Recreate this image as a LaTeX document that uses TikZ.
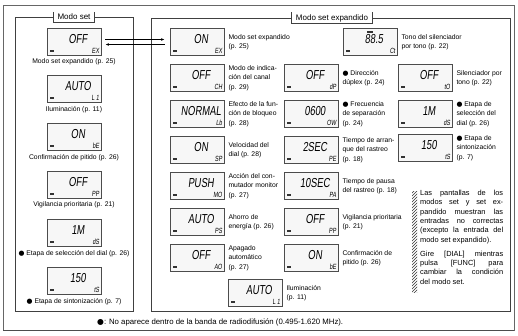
\documentclass[tikz,border=0pt]{standalone}
\usepackage{fontspec}
\setmainfont{Liberation Sans}
\newfontfamily\lcdfont[FakeSlant=0.12,FakeStretch=0.72]{Liberation Sans}
\newfontfamily\symfont{DejaVu Sans}
\usetikzlibrary{arrows.meta,patterns}

\tikzset{
  frame/.style={draw=black!75, line width=0.9pt},
  lcd/.style={draw=black!70, line width=0.7pt, fill=black!3, minimum width=54pt, minimum height=27pt, inner sep=0pt},
  lcdmain/.style={font=\lcdfont\fontsize{13}{13}\selectfont, inner sep=0pt},
  lcdcode/.style={font=\lcdfont\fontsize{7.5}{7.5}\selectfont, inner sep=0pt},
  lbl/.style={font=\fontsize{6.8}{9.5}\selectfont, align=left, inner sep=0pt},
  tab/.style={font=\fontsize{8}{8}\selectfont, fill=white, inner xsep=4pt, inner ysep=2pt},
}

\newcommand\bmark{{\symfont\char"25CF}}

% one LCD window: name, x, y, reading, code
\newcommand\lcdpanel[5]{%
  \node[lcd] (#1) at (#2,#3) {};
  \node[lcdmain] (#1-v) at ([shift={(4pt,3pt)}]#1.center) {#4};
  \node[lcdcode, anchor=base east] (#1-c) at ([shift={(-2pt,2pt)}]#1.south east) {#5};
  \fill[black!80] ([shift={(3pt,4pt)}]#1.south west) rectangle ++(4.5pt,1.6pt);
}

\begin{document}
\begin{tikzpicture}[x=1pt,y=-1pt]
\useasboundingbox (0,0) rectangle (518,335);
% page frame
\draw[black!60, line width=0.8pt] (3,5) rectangle (514,330);
\draw[black!70, line width=1.6pt] (3,330.5) -- (514,330.5);

% Modo set
\draw[frame] (15,17) rectangle (133,311);
\node[tab] (t-set) at (74,17) {Modo set};
\draw[frame] (t-set.north west) -- (t-set.south west) -- (t-set.south east) -- (t-set.north east);

\lcdpanel{s-ex}{74}{42}{OFF}{EX}
\node[lbl, anchor=north] (s-ex-l) at ([yshift=-3pt]s-ex.south) {Modo set expandido (p. 25)};
\lcdpanel{s-il}{74}{89}{AUTO}{L 1}
\node[lbl, anchor=north] (s-il-l) at ([yshift=-3pt]s-il.south) {Iluminación (p. 11)};
\lcdpanel{s-be}{74}{137}{ON}{bE}
\node[lbl, anchor=north] (s-be-l) at ([yshift=-3pt]s-be.south) {Confirmación de pitido (p. 26)};
\lcdpanel{s-pp}{74}{185}{OFF}{PP}
\node[lbl, anchor=north] (s-pp-l) at ([yshift=-3pt]s-pp.south) {Vigilancia prioritaria (p. 21)};
\lcdpanel{s-ds}{74}{233}{1M}{dS}
\node[lbl, anchor=north] (s-ds-l) at ([yshift=-3pt]s-ds.south) {\bmark\ Etapa de selección del dial (p. 26)};
\lcdpanel{s-ts}{74}{281}{150}{tS}
\node[lbl, anchor=north] (s-ts-l) at ([yshift=-3pt]s-ts.south) {\bmark\ Etapa de sintonización (p. 7)};

% Modo set expandido
\draw[frame] (151,18) rectangle (510,311);
\node[tab] (t-exp) at (332,18) {Modo set expandido};
\draw[frame] (t-exp.north west) -- (t-exp.south west) -- (t-exp.south east) -- (t-exp.north east);

\lcdpanel{e-ex}{197}{42}{ON}{EX}
\node[lbl, anchor=west] (e-ex-l) at ([xshift=4pt]e-ex.east) {Modo set expandido\\(p. 25)};
\lcdpanel{e-ch}{197}{78}{OFF}{CH}
\node[lbl, anchor=west] (e-ch-l) at ([xshift=4pt]e-ch.east) {Modo de indica-\\ción del canal\\(p. 29)};
\lcdpanel{e-lb}{197}{114}{NORMAL}{Lb}
\node[lbl, anchor=west] (e-lb-l) at ([xshift=4pt]e-lb.east) {Efecto de la fun-\\ción de bloqueo\\(p. 28)};
\lcdpanel{e-sp}{197}{150}{ON}{SP}
\node[lbl, anchor=west] (e-sp-l) at ([xshift=4pt]e-sp.east) {Velocidad del\\dial (p. 28)};
\lcdpanel{e-mo}{197}{186}{PUSH}{MO}
\node[lbl, anchor=west] (e-mo-l) at ([xshift=4pt]e-mo.east) {Acción del con-\\mutador monitor\\(p. 27)};
\lcdpanel{e-ps}{197}{222}{AUTO}{PS}
\node[lbl, anchor=west] (e-ps-l) at ([xshift=4pt]e-ps.east) {Ahorro de\\energía (p. 26)};
\lcdpanel{e-ao}{197}{258}{OFF}{AO}
\node[lbl, anchor=west] (e-ao-l) at ([xshift=4pt]e-ao.east) {Apagado\\automático\\(p. 27)};
\lcdpanel{e-il}{255}{293}{AUTO}{L 1}
\node[lbl, anchor=west] (e-il-l) at ([xshift=4pt]e-il.east) {Iluminación\\(p. 11)};

\lcdpanel{e-dp}{311}{78}{OFF}{dP}
\node[lbl, anchor=west] (e-dp-l) at ([xshift=4pt]e-dp.east) {\bmark\ Dirección\\dúplex (p. 24)};
\lcdpanel{e-ow}{311}{114}{0600}{OW}
\node[lbl, anchor=west] (e-ow-l) at ([xshift=4pt]e-ow.east) {\bmark\ Frecuencia\\de separación\\(p. 24)};
\lcdpanel{e-pe}{311}{150}{2SEC}{PE}
\node[lbl, anchor=west] (e-pe-l) at ([xshift=4pt]e-pe.east) {Tiempo de arran-\\que del rastreo\\(p. 18)};
\lcdpanel{e-pa}{311}{186}{10SEC}{PA}
\node[lbl, anchor=west] (e-pa-l) at ([xshift=4pt]e-pa.east) {Tiempo de pausa\\del rastreo (p. 18)};
\lcdpanel{e-pp}{311}{222}{OFF}{PP}
\node[lbl, anchor=west] (e-pp-l) at ([xshift=4pt]e-pp.east) {Vigilancia prioritaria\\(p. 21)};
\lcdpanel{e-be}{311}{258}{ON}{bE}
\node[lbl, anchor=west] (e-be-l) at ([xshift=4pt]e-be.east) {Confirmación de\\pitido (p. 26)};

\lcdpanel{e-ct}{370}{42}{88.5}{Ct}
\fill[black!80] ([shift={(-3pt,-3pt)}]e-ct.north) rectangle ++(6pt,-1.5pt);
\node[lbl, anchor=west] (e-ct-l) at ([xshift=4pt]e-ct.east) {Tono del silenciador\\por tono (p. 22)};
\lcdpanel{e-to}{425}{78}{OFF}{tO}
\node[lbl, anchor=west] (e-to-l) at ([xshift=4pt]e-to.east) {Silenciador por\\tono (p. 22)};
\lcdpanel{e-ds}{425}{114}{1M}{dS}
\node[lbl, anchor=west] (e-ds-l) at ([xshift=4pt]e-ds.east) {\bmark\ Etapa de\\selección del\\dial (p. 26)};
\lcdpanel{e-ts}{425}{148}{150}{tS}
\node[lbl, anchor=west] (e-ts-l) at ([xshift=4pt]e-ts.east) {\bmark\ Etapa de\\sintonización\\(p. 7)};

% between the two modes
\draw[-{Latex[length=3.5pt,width=2.6pt]}, line width=0.6pt] ([shift={(4pt,2.5pt)}]s-ex.east) -- ([shift={(-5pt,2.5pt)}]e-ex.west);
\draw[-{Latex[length=3.5pt,width=2.6pt]}, line width=0.6pt] ([shift={(-5pt,-2.5pt)}]e-ex.west) -- ([shift={(4pt,-2.5pt)}]s-ex.east);

% note
\path[pattern=north east lines, pattern color=black!80] (412,191) rectangle (417,292);
\node[lbl, font=\fontsize{7.4}{9.3}\selectfont, text width=83pt, align=justify, anchor=north west] (note) at (420,190)
  {Las pantallas de los\linebreak modos set y set ex-\linebreak pandido muestran las\linebreak entradas no correctas\linebreak (excepto la entrada del\linebreak modo set expandido).\par\vspace{5pt}Gire [DIAL] mientras\linebreak pulsa [FUNC] para\linebreak cambiar la condición\linebreak del modo set.};

\node[lbl, font=\fontsize{7.8}{9}\selectfont, anchor=west] (foot) at (97,322) {\bmark: No aparece dentro de la banda de radiodifusión (0.495-1.620 MHz).};
\end{tikzpicture}
\end{document}
